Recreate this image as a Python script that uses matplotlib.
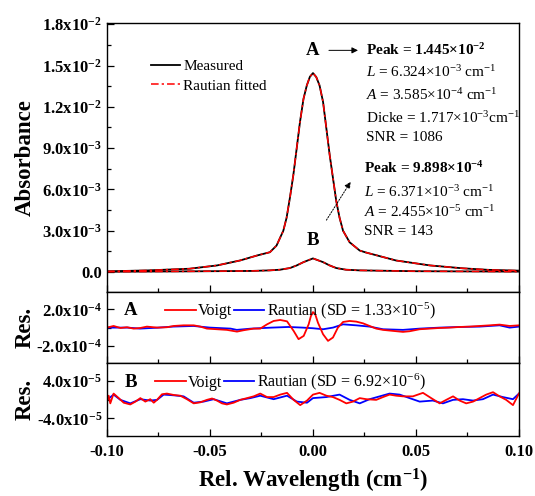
import matplotlib
matplotlib.use("Agg")
import numpy as np
import matplotlib.pyplot as plt
from matplotlib.ticker import MultipleLocator, FixedLocator

plt.rcParams['font.family'] = ['Liberation Serif', 'DejaVu Serif']
plt.rcParams['mathtext.fontset'] = 'custom'
plt.rcParams['mathtext.rm'] = 'Liberation Serif'
plt.rcParams['mathtext.it'] = 'Liberation Serif:italic'
plt.rcParams['mathtext.bf'] = 'Liberation Serif:bold'
plt.rcParams['mathtext.default'] = 'regular'

# ---- absorbance profiles (rel. wavelength in cm^-1) ----
peak_a = 1.445e-2
peak_b = 9.898e-4

x_a = [-0.1, -0.08, -0.06, -0.0466, -0.0354, -0.0272, -0.0209, -0.0177, -0.0144,
       -0.0128, -0.0112, -0.0095, -0.0079, -0.0063, -0.0046, -0.003, -0.0015, 0.0,
       0.0016, 0.0032, 0.0049, 0.0065, 0.0081, 0.0097, 0.0113, 0.0129, 0.0146,
       0.0178, 0.0227, 0.0257, 0.0403, 0.0568, 0.0728, 0.085, 0.1]
abs_a = [0.00005, 0.00012, 0.00024, 0.00048, 0.00084, 0.0012, 0.00144, 0.00192, 0.0030,
         0.00395, 0.00539, 0.00708, 0.00899, 0.01091, 0.01258, 0.01355, 0.01418, peak_a,
         0.01416, 0.01355, 0.01235, 0.01043, 0.00851, 0.00683, 0.00516, 0.00395, 0.0030,
         0.00216, 0.00156, 0.00142, 0.00084, 0.00048, 0.00027, 0.00016, 0.0001]

x_b = [-0.1, -0.06, -0.03, -0.021, -0.016, -0.0112, -0.0079, -0.0046, 0.0,
       0.0049, 0.0081, 0.0113, 0.016, 0.0227, 0.05, 0.1]
abs_b = [0.00002, 0.00005, 0.00008, 0.00012, 0.00017, 0.00029, 0.00048, 0.00072, peak_b,
         0.00072, 0.00048, 0.00029, 0.00017, 0.00012, 0.00006, 0.00003]

# ---- fit residuals, line A (units of 1e-5) ----
xr_a_voigt = [-0.1, -0.0968, -0.0935, -0.0903, -0.0871, -0.0838, -0.0806, -0.0757, -0.0709,
              -0.0676, -0.0628, -0.0579, -0.0547, -0.0515, -0.0466, -0.0418, -0.0369, -0.0337,
              -0.0288, -0.0256, -0.0223, -0.0191, -0.0159, -0.0126, -0.0094, -0.0070, -0.0045,
              -0.0021, -0.001, 0.0, 0.0011, 0.0024, 0.0049, 0.0073, 0.0097, 0.0121, 0.0146, 0.0178,
              0.0210, 0.0243, 0.0275, 0.0307, 0.0340, 0.0388, 0.0437, 0.0469, 0.0518, 0.0566,
              0.0615, 0.0663, 0.0712, 0.0760, 0.0809, 0.0858, 0.0906, 0.0955, 0.1]
res_a_voigt = [0, 1.8, -0.4, 0.4, -1.1, -0.4, 1.1, 0, 0.4,
               1.8, 2.5, 2.5, 1.1, -1.1, -1.8, -2.5, -4.4, -2.9,
               -1.1, -1.1, 3.6, 7.3, 8.4, 6.9, -3.6, -12.7, -9.1,
               3.6, 12.7, 17.1, 14.6, 5.5, -7.3, -14.6, -10.9, 0, 6.2, 7.3,
               6.6, 4.7, 1.8, -1.1, -2.5, -3.6, -4.7, -4.0, -1.8, -1.1,
               -0.4, 0, 0.7, 1.1, 1.8, 2.5, 3.3, 1.8, 2.5]

xr_a_raut = [-0.1, -0.09, -0.084, -0.075, -0.068, -0.058, -0.05, -0.04, -0.037, -0.03,
             -0.02, -0.012, -0.005, 0.0, 0.0049, 0.0097, 0.0146, 0.021, 0.0275, 0.034,
             0.0437, 0.0518, 0.0615, 0.0712, 0.0809, 0.0906, 0.0955, 0.1]
res_a_raut = [0, 0, -1.1, 0, 1.1, 1.8, 0, -1.1, -2.5, -1.1,
              0, 0.7, 0, -0.7, -1.8, 0, 3.6, 2.5, 1.1, -1.8,
              -2.5, -1.1, 0, 0.7, 1.1, 2.5, 0, 1.1]

# ---- fit residuals, line B (units of 1e-6) ----
xr_b_voigt = [-0.1, -0.0992, -0.0984, -0.0968, -0.0943, -0.0919, -0.0887, -0.0862, -0.0838,
              -0.0814, -0.0790, -0.0773, -0.0757, -0.0733, -0.0709, -0.0676, -0.0644, -0.0612,
              -0.0579, -0.0547, -0.0515, -0.0490, -0.0466, -0.0442, -0.0418, -0.0385, -0.0353,
              -0.0320, -0.0288, -0.0256, -0.0223, -0.0191, -0.0159, -0.0126, -0.0094, -0.0062,
              -0.0029, 0.0, 0.0032, 0.0065, 0.0097, 0.0129, 0.0162, 0.0194, 0.0227, 0.0259,
              0.0307, 0.0340, 0.0372, 0.0404, 0.0437, 0.0485, 0.0534, 0.0574, 0.0615, 0.0647,
              0.0680, 0.0712, 0.0744, 0.0777, 0.0809, 0.0841, 0.0874, 0.0906, 0.0938, 0.0971, 0.1]
res_b_voigt = [-4.4, 8.1, -8.1, 12.6, 3.0, -6.7, -10.4, -4.4, 3.0,
               -4.4, 0.7, -6.7, -0.7, 11.1, 12.6, 9.6, 8.1, 0.7,
               -8.1, -5.9, -0.7, 2.2, -2.2, -8.1, -10.4, -6.7, -0.7,
               3.0, 6.7, 12.6, 5.2, 5.2, 10.4, 14.1, -0.7, -11.8,
               -2.2, 10.4, 14.1, 8.1, 5.2, -0.7, -8.1, -4.4, 3.0, 0.7,
               -0.7, 5.2, 10.4, 8.1, 6.7, 6.7, 14.1, 3.0, -8.1, -0.7,
               6.7, -2.2, -8.1, -4.4, 3.0, 10.4, 15.5, 6.7, -0.7, -11.8, 12.6]

xr_b_raut = [-0.1, -0.0968, -0.0935, -0.0887, -0.0838, -0.0790, -0.0757, -0.0725, -0.0676,
             -0.0628, -0.0579, -0.0531, -0.0482, -0.0418, -0.0353, -0.0304, -0.0256, -0.0191,
             -0.0126, -0.0078, -0.0029, 0.0, 0.0065, 0.0129, 0.0178, 0.0227, 0.0275, 0.0324,
             0.0372, 0.0421, 0.0469, 0.0518, 0.0582, 0.0631, 0.0680, 0.0728, 0.0777, 0.0825,
             0.0874, 0.0922, 0.0971, 0.1]
res_b_raut = [-0.7, 10.4, -0.7, -8.1, 0.7, -2.2, -0.7, 10.4, 8.9,
              6.7, -6.7, -4.4, 0.7, -8.1, -0.7, 3.0, 8.1, 0.7,
              8.1, -4.4, -6.7, 3.0, 5.2, 10.4, -0.7, -8.1, 0.7, 6.7,
              12.6, 10.4, 3.0, -4.4, -2.2, -8.1, -0.7, 0.7, -2.2, 0.7,
              10.4, 5.2, 0.7, 12.6]

main_yticks = [0.0, 0.003, 0.006, 0.009, 0.012, 0.015, 0.018]
main_yticklabels = ['0.0', '3.0x10$^{-3}$', '6.0x10$^{-3}$', '9.0x10$^{-3}$',
                    '1.2x10$^{-2}$', '1.5x10$^{-2}$', '1.8x10$^{-2}$']
res_a_yticks = [-2e-4, 2e-4]
res_a_yticklabels = ['-2.0x10$^{-4}$', '2.0x10$^{-4}$']
res_b_yticks = [-4e-5, 4e-5]
res_b_yticklabels = ['-4.0x10$^{-5}$', '4.0x10$^{-5}$']
sd_a = '1.33×10$^{-5}$'
sd_b = '6.92×10$^{-6}$'

fig = plt.figure(figsize=(5.35, 4.96), dpi=100)
L, W = 0.2, 0.77
ax = fig.add_axes([L, 0.411, W, 0.543])
axa = fig.add_axes([L, 0.268, W, 0.143], sharex=ax)
axb = fig.add_axes([L, 0.121, W, 0.147], sharex=ax)

black_kw = dict(color='black', lw=1.3)
red_kw = dict(color='red', lw=1.1, dashes=(5, 2, 1.5, 2))
ax.plot(x_a, abs_a, label='Measured', **black_kw)
ax.plot(x_b, abs_b, **black_kw)
ax.plot(x_a, abs_a, label='Rautian fitted', **red_kw)
ax.plot(x_b, abs_b, **red_kw)
ax.set_ylim(-0.00146, 0.0181)
ax.set_xlim(-0.1, 0.1)
ax.set_yticks(main_yticks)
ax.set_yticklabels(main_yticklabels)
ax.yaxis.set_minor_locator(MultipleLocator(0.0015))
ax.set_ylabel('Absorbance', fontsize=16.5, fontweight='bold')
ax.legend(loc='upper left', bbox_to_anchor=(0.107, 0.865), frameon=False, fontsize=11,
          handlelength=1.9, handletextpad=0.2, labelspacing=0.4, borderaxespad=0, borderpad=0)

# peak annotations
ax.text(0.0, 0.0161, 'A', fontsize=13.5, fontweight='bold', ha='center', va='center')
ax.annotate('', xy=(0.0232, 0.0161), xytext=(0.0064, 0.0161),
            arrowprops=dict(arrowstyle='-|>', color='black', lw=0.7, mutation_scale=9))
lines_a = [('Peak = %.3f×10$^{-2}$' % (peak_a * 1e2), 'bold'),
           ('$\\mathit{L}$ = 6.324×10$^{-3}$ cm$^{-1}$', 'normal'),
           ('$\\mathit{A}$ = 3.585×10$^{-4}$ cm$^{-1}$', 'normal'),
           ('Dicke = 1.717×10$^{-3}$cm$^{-1}$', 'normal'),
           ('SNR = 1086', 'normal')]
for (s, w), yy in zip(lines_a, [0.0161, 0.0145, 0.01285, 0.0112, 0.00975]):
    ax.text(0.0258, yy, s, fontsize=11, fontweight=w, ha='left', va='center')

ax.text(0.0, 0.00228, 'B', fontsize=13.5, fontweight='bold', ha='center', va='center')
ax.annotate('', xy=(0.0190, 0.00672), xytext=(0.0058, 0.0036),
            arrowprops=dict(arrowstyle='-|>', color='black', lw=0.7, ls=(0, (1.5, 1.5)),
                            mutation_scale=9))
lines_b = [('Peak = %.3f×10$^{-4}$' % (peak_b * 1e4), 'bold'),
           ('$\\mathit{L}$ = 6.371×10$^{-3}$ cm$^{-1}$', 'normal'),
           ('$\\mathit{A}$ = 2.455×10$^{-5}$ cm$^{-1}$', 'normal'),
           ('SNR = 143', 'normal')]
for (s, w), yy in zip(lines_b, [0.00755, 0.0058, 0.00439, 0.00293]):
    ax.text(0.0248, yy, s, fontsize=11, fontweight=w, ha='left', va='center')

# residual panels
panels = [(axa, xr_a_voigt, res_a_voigt, xr_a_raut, res_a_raut, 1e-5, 3.9e-4,
           res_a_yticks, res_a_yticklabels, 'A', sd_a, 0.142),
          (axb, xr_b_voigt, res_b_voigt, xr_b_raut, res_b_raut, 1e-6, 7.7e-5,
           res_b_yticks, res_b_yticklabels, 'B', sd_b, 0.117)]
for (a, xv, rv, xr, rr, unit, lim, ticks, tlabels, tag, sd, lx) in panels:
    hb, = a.plot(xr, np.array(rr) * unit, color='blue', lw=1.3)
    hr, = a.plot(xv, np.array(rv) * unit, color='red', lw=1.3)
    a.set_ylim(-lim, lim)
    a.set_yticks(ticks)
    a.set_yticklabels(tlabels)
    a.yaxis.set_minor_locator(FixedLocator([0.0]))
    a.set_ylabel('Res.', fontsize=16.5, fontweight='bold')
    a.text(0.057, 0.74, tag, transform=a.transAxes, fontsize=13.5, fontweight='bold',
           ha='center', va='center')
    a.legend([hr, hb], ['Voigt', 'Rautian (SD = %s)' % sd], ncol=2, frameon=False,
             loc='center left', bbox_to_anchor=(lx, 0.74), fontsize=11.5,
             handlelength=1.9, handletextpad=0.15, columnspacing=0.1,
             borderaxespad=0, borderpad=0)

for a in (ax, axa, axb):
    a.xaxis.set_major_locator(MultipleLocator(0.05))
    a.xaxis.set_minor_locator(MultipleLocator(0.025))
    a.tick_params(which='both', direction='in', top=False, right=False, width=0.9)
    a.tick_params(which='major', length=5, labelsize=12)
    a.tick_params(which='minor', length=3)
    for lab in a.get_yticklabels():
        lab.set_fontweight('bold')
    for sp in a.spines.values():
        sp.set_linewidth(1.0)
    a.yaxis.set_label_coords(-0.172, 0.5)

for a in (ax, axa):
    a.tick_params(labelbottom=False)
axb.tick_params(axis='x', which='major', pad=6)
axb.set_xticklabels(['%.2f' % v for v in axb.get_xticks()])
for lab in axb.get_xticklabels():
    lab.set_fontweight('bold')
axb.set_xlim(-0.1, 0.1)
axb.set_xlabel('Rel. Wavelength (cm$^{-1}$)', fontsize=16.5, fontweight='bold', labelpad=5)

fig.savefig('out.png', dpi=100)
